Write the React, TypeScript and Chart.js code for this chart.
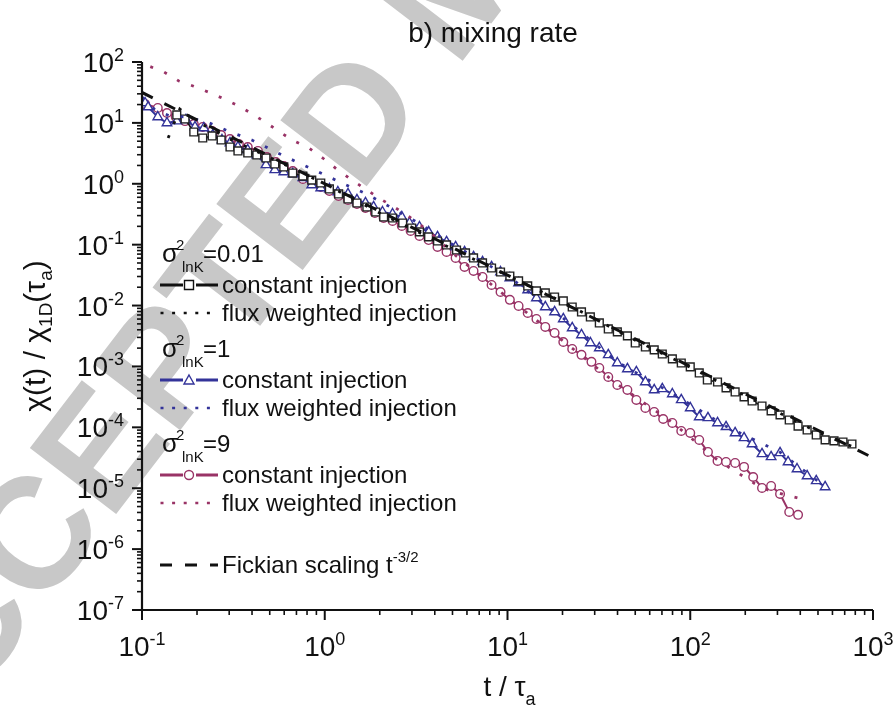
import React, { useEffect, useRef } from "react";
import { Chart, registerables } from "chart.js";

Chart.register(...registerables);

// ---------------- data ----------------
const fickT = [0.1, 1000];
const fickY = [31.6, 3.16e-5];

const sqT = [0.155,0.172,0.192,0.215,0.242,0.271,0.303,0.335,0.379,0.425,0.477,0.533,0.597,0.668,0.759,0.849,0.951,1.06,1.19,1.34,1.50,1.70,1.90,2.10,2.35,2.67,2.99,3.30,3.70,4.14,4.64,5.26,5.89,6.52,7.30,8.18,9.16,10.3,11.5,12.9,14.4,16.1,18.1,20.2,22.6,25.4,28.4,31.8,35.6,39.9,45.3,50.0,56.8,63.5,70.3,79.8,89.3,100,112,124,141,157,176,197,218,247,277,310,348,389,436,489,547,612,685,767];
const sqY = [13.5,11.6,7.09,5.65,6.10,5.24,4.02,3.46,3.21,2.97,2.65,2.11,1.89,1.50,1.34,1.15,1.03,0.822,0.681,0.562,0.484,0.416,0.344,0.285,0.274,0.227,0.188,0.162,0.134,0.115,0.0989,0.0818,0.0731,0.0605,0.0501,0.0414,0.0356,0.0306,0.0254,0.0210,0.0174,0.0161,0.0138,0.0119,0.00948,0.00785,0.00650,0.00518,0.00413,0.00369,0.00317,0.00243,0.00209,0.00187,0.00160,0.00133,0.00114,0.000982,0.000782,0.000600,0.000556,0.000444,0.000381,0.000316,0.000271,0.000224,0.000186,0.000160,0.000132,0.000105,9.06e-5,7.50e-5,6.21e-5,5.98e-5,5.75e-5,5.33e-5];

const triT = [0.104,0.108,0.122,0.137,0.155,0.174,0.195,0.218,0.244,0.274,0.303,0.335,0.379,0.425,0.477,0.533,0.597,0.668,0.759,0.849,0.951,1.06,1.18,1.34,1.50,1.67,1.85,2.07,2.35,2.64,2.91,3.30,3.70,4.14,4.64,5.20,5.82,6.52,7.30,8.18,9.16,10.3,11.5,12.9,14.4,16.1,18.1,20.2,22.6,25.4,28.4,31.8,35.6,39.9,45.3,50.7,56.8,63.5,70.3,79.8,89.3,100,112,125,141,157,176,197,218,247,277,310,343,384,436,489,547];
const triY = [21.2,18.2,12.5,9.96,10.7,11.2,8.57,8.25,6.33,5.24,4.68,4.02,3.59,2.97,2.04,1.69,1.56,1.45,1.25,0.955,0.853,0.822,0.733,0.681,0.542,0.484,0.416,0.344,0.319,0.285,0.227,0.195,0.162,0.134,0.111,0.0917,0.0759,0.0628,0.0520,0.0431,0.0356,0.0284,0.0235,0.0180,0.0133,0.00948,0.00785,0.00603,0.00429,0.00329,0.00243,0.00201,0.00155,0.00114,0.000910,0.000813,0.000556,0.000411,0.000428,0.000353,0.000282,0.000208,0.000148,0.000143,0.000118,0.000102,8.09e-5,6.70e-5,5.33e-5,3.66e-5,3.27e-5,3.80e-5,2.70e-5,2.07e-5,1.59e-5,1.32e-5,1.05e-5];

const cirT = [0.104,0.122,0.137,0.153,0.172,0.192,0.215,0.242,0.271,0.303,0.339,0.379,0.431,0.482,0.540,0.597,0.668,0.759,0.849,0.951,1.06,1.19,1.34,1.50,1.67,1.88,2.10,2.35,2.64,2.95,3.30,3.70,4.14,4.64,5.20,5.82,6.52,7.30,8.18,9.16,10.3,11.5,12.9,14.4,16.1,18.1,20.2,22.6,25.4,28.8,31.8,35.6,39.9,45.3,50.7,56.8,63.5,71.1,79.8,89.3,100,112,125,141,157,176,197,221,247,277,310,348,389];
const cirY = [20.4,17.6,14.5,12.5,10.7,9.59,8.57,7.36,6.33,5.44,4.50,4.02,3.46,2.75,2.28,1.96,1.62,1.20,1.07,0.886,0.762,0.631,0.542,0.466,0.401,0.332,0.274,0.245,0.203,0.168,0.139,0.119,0.0917,0.0759,0.0605,0.0431,0.0370,0.0295,0.0218,0.0167,0.0124,0.00985,0.00755,0.00603,0.00446,0.00355,0.00252,0.00194,0.00155,0.00119,0.000944,0.000673,0.000497,0.000411,0.000282,0.000208,0.000179,0.000137,0.000118,8.73e-5,8.09e-5,6.21e-5,3.94e-5,2.81e-5,2.70e-5,2.60e-5,2.24e-5,1.53e-5,1.01e-5,1.09e-5,8.05e-6,4.08e-6,3.65e-6];

const fluxBlackT = [0.139,0.161,0.2,0.3,0.5,1,2,5,10,20,50,100,200,500,800];
const fluxBlackY = [5.65,16.9,10.5,5.5,2.7,1.0,0.33,0.085,0.031,0.0115,0.0027,0.00097,0.00033,8.3e-5,4.6e-5];

const fluxBlueT = [0.1,0.118,0.142,0.172,0.226,0.295,0.399,0.526,0.703,0.927,1.24,1.65,2.18,2.84,3.26,4.64,5.82,10.3,20.2,39.9,79.8,157,310,500];
const fluxBlueY = [26.6,16.3,13.0,12.5,10.4,7.36,5.24,3.46,2.28,1.56,1.03,0.706,0.449,0.285,0.227,0.115,0.078,0.029,0.0062,0.00118,0.00036,0.000104,3.9e-5,1.3e-5];

const fluxPurpleT = [0.111,0.132,0.159,0.190,0.230,0.274,0.330,0.394,0.470,0.567,0.678,0.818,0.975,1.16,1.41,1.70,2.02,2.44,2.91,3.76,5.0,10.3,20.2,39.9,79.8,141,247,320,389];
const fluxPurpleY = [84,68.5,48.8,40.4,32.2,25.6,19.7,14.5,10.4,7.09,5.05,3.87,2.65,1.75,1.15,0.791,0.562,0.401,0.285,0.162,0.073,0.0126,0.0026,0.00051,0.00012,2.9e-5,1.0e-5,8e-6,6.9e-6];

const xMajor = [0.1, 1, 10, 100, 1000];
const xTickExp = ["-1", "0", "1", "2", "3"];
const yMajor = [1e2, 1e1, 1, 1e-1, 1e-2, 1e-3, 1e-4, 1e-5, 1e-6, 1e-7];
const yTickExp = ["2", "1", "0", "-1", "-2", "-3", "-4", "-5", "-6", "-7"];

const BLACK = "#111111";
const BLUE = "#333399";
const PURPLE = "#993366";
const FONT = "'Liberation Sans', Arial, Helvetica, sans-serif";

type Part = { t: string; size: number; dy?: number };

function pts(xs: number[], ys: number[]) {
  return xs.map((x, i) => ({ x, y: ys[i] }));
}

function partsWidth(ctx: CanvasRenderingContext2D, parts: Part[]) {
  let w = 0;
  for (const p of parts) {
    ctx.font = `${p.size}px ${FONT}`;
    w += ctx.measureText(p.t).width;
  }
  return w;
}

function drawParts(ctx: CanvasRenderingContext2D, parts: Part[], x: number, y: number, align: "left" | "center" | "right") {
  const w = partsWidth(ctx, parts);
  let cx = align === "left" ? x : align === "center" ? x - w / 2 : x - w;
  ctx.textAlign = "left";
  ctx.textBaseline = "alphabetic";
  for (const p of parts) {
    ctx.font = `${p.size}px ${FONT}`;
    ctx.fillText(p.t, cx, y + (p.dy || 0));
    cx += ctx.measureText(p.t).width;
  }
}

const decorPlugin = {
  id: "decor",
  beforeDatasetsDraw(chart: any) {
    const ctx: CanvasRenderingContext2D = chart.ctx;
    ctx.save();
    // watermark
    const em = 158;
    ctx.font = `bold ${em}px ${FONT}`;
    ctx.fillStyle = "#c8c8c8";
    ctx.translate(350, 115);
    ctx.rotate((-52.6 * Math.PI) / 180);
    const pre = ctx.measureText("ACCEPTE").width;
    const dW = ctx.measureText("D").width;
    ctx.textAlign = "left";
    ctx.textBaseline = "alphabetic";
    ctx.fillText("ACCEPTED MANUSCRIPT", -pre - dW / 2, em * 0.358);
    ctx.restore();
  },
  afterDatasetsDraw(chart: any) {
    const ctx: CanvasRenderingContext2D = chart.ctx;
    const xs = chart.scales.x;
    const ys = chart.scales.y;
    const area = chart.chartArea;
    ctx.save();
    ctx.strokeStyle = BLACK;
    ctx.fillStyle = BLACK;
    ctx.lineCap = "butt";
    // axis lines
    ctx.lineWidth = 2.2;
    ctx.beginPath();
    ctx.moveTo(area.left, area.top);
    ctx.lineTo(area.left, area.bottom);
    ctx.lineTo(area.right, area.bottom);
    ctx.stroke();
    // y ticks
    for (let i = 0; i < yMajor.length; i++) {
      const v = yMajor[i];
      const py = ys.getPixelForValue(v);
      ctx.lineWidth = 2;
      ctx.beginPath();
      ctx.moveTo(area.left - 10, py);
      ctx.lineTo(area.left, py);
      ctx.stroke();
      if (i < yMajor.length - 1) {
        for (let m = 2; m <= 9; m++) {
          const pm = ys.getPixelForValue(yMajor[i + 1] * m);
          ctx.lineWidth = 1.6;
          ctx.beginPath();
          ctx.moveTo(area.left - 5, pm);
          ctx.lineTo(area.left, pm);
          ctx.stroke();
        }
      }
      drawParts(ctx, [{ t: "10", size: 28 }, { t: yTickExp[i], size: 18, dy: -11 }], 124, py + 10, "right");
    }
    // x ticks
    for (let i = 0; i < xMajor.length; i++) {
      const v = xMajor[i];
      const px = xs.getPixelForValue(v);
      ctx.lineWidth = 2;
      ctx.beginPath();
      ctx.moveTo(px, area.bottom);
      ctx.lineTo(px, area.bottom + 10);
      ctx.stroke();
      if (i < xMajor.length - 1) {
        for (let m = 2; m <= 9; m++) {
          const pm = xs.getPixelForValue(v * m);
          ctx.lineWidth = 1.6;
          ctx.beginPath();
          ctx.moveTo(pm, area.bottom);
          ctx.lineTo(pm, area.bottom + 5);
          ctx.stroke();
        }
      }
      drawParts(ctx, [{ t: "10", size: 28 }, { t: xTickExp[i], size: 18, dy: -11 }], px, 656, "center");
    }
    // title
    drawParts(ctx, [{ t: "b) mixing rate", size: 28 }], 493, 42, "center");
    // x title
    drawParts(ctx, [{ t: "t / \u03C4", size: 28 }, { t: "a", size: 18, dy: 9 }], (area.left + area.right) / 2 + 2, 696, "center");
    // y title (rotated)
    ctx.save();
    ctx.translate(45, (area.top + area.bottom) / 2);
    ctx.rotate(-Math.PI / 2);
    drawParts(
      ctx,
      [
        { t: "\u03C7(t) / \u03C7", size: 30 },
        { t: "1D", size: 19, dy: 7 },
        { t: "(\u03C4", size: 30 },
        { t: "a", size: 19, dy: 7 },
        { t: ")", size: 30 },
      ],
      0,
      0,
      "center"
    );
    ctx.restore();

    // legend
    const sigmaRow = (b: number, val: string) => {
      ctx.fillStyle = BLACK;
      drawParts(ctx, [{ t: "\u03C3", size: 26 }], 162, b, "left");
      drawParts(ctx, [{ t: "2", size: 15 }], 176, b - 12, "left");
      drawParts(ctx, [{ t: "lnK", size: 15 }], 182, b + 10, "left");
      drawParts(ctx, [{ t: val, size: 24 }], 203, b, "left");
    };
    const lineRow = (y: number, color: string, marker: string) => {
      ctx.strokeStyle = color;
      ctx.lineWidth = 3;
      ctx.setLineDash([]);
      ctx.beginPath();
      ctx.moveTo(160, y);
      ctx.lineTo(183, y);
      ctx.moveTo(196, y);
      ctx.lineTo(218, y);
      ctx.stroke();
      ctx.lineWidth = 1.4;
      ctx.fillStyle = "#fff";
      ctx.beginPath();
      if (marker === "rect") {
        ctx.rect(184.5, y - 4.5, 9, 9);
      } else if (marker === "triangle") {
        ctx.moveTo(189, y - 5);
        ctx.lineTo(194, y + 4);
        ctx.lineTo(184, y + 4);
        ctx.closePath();
      } else {
        ctx.arc(189, y, 4.5, 0, Math.PI * 2);
      }
      ctx.fill();
      ctx.stroke();
      ctx.fillStyle = BLACK;
      drawParts(ctx, [{ t: "constant injection", size: 24 }], 222, y + 8, "left");
    };
    const dotRow = (y: number, color: string) => {
      ctx.strokeStyle = color;
      ctx.lineWidth = 2.6;
      ctx.setLineDash([3, 8.6]);
      ctx.beginPath();
      ctx.moveTo(160.5, y);
      ctx.lineTo(212, y);
      ctx.stroke();
      ctx.setLineDash([]);
      ctx.fillStyle = BLACK;
      drawParts(ctx, [{ t: "flux weighted injection", size: 24 }], 222, y + 8, "left");
    };
    sigmaRow(262, "=0.01");
    lineRow(285, BLACK, "rect");
    dotRow(313, BLACK);
    sigmaRow(357, "=1");
    lineRow(380, BLUE, "triangle");
    dotRow(408, BLUE);
    sigmaRow(452, "=9");
    lineRow(475, PURPLE, "circle");
    dotRow(503, PURPLE);
    // fickian
    ctx.strokeStyle = BLACK;
    ctx.lineWidth = 3;
    ctx.setLineDash([12, 13]);
    ctx.beginPath();
    ctx.moveTo(160, 565);
    ctx.lineTo(218, 565);
    ctx.stroke();
    ctx.setLineDash([]);
    ctx.fillStyle = BLACK;
    drawParts(ctx, [{ t: "Fickian scaling t", size: 24 }, { t: "-3/2", size: 15, dy: -11 }], 222, 573, "left");
    ctx.restore();
  },
};

export default function App() {
  const ref = useRef<HTMLCanvasElement | null>(null);
  useEffect(() => {
    document.body.style.margin = "0";
    const canvas = ref.current!;
    const chart = new Chart(canvas, {
      type: "line",
      data: {
        datasets: [
          {
            label: "Fickian scaling",
            data: pts(fickT, fickY),
            borderColor: BLACK,
            borderWidth: 3,
            borderDash: [12, 13],
            pointRadius: 0,
            fill: false,
          },
          {
            label: "flux 0.01",
            data: pts(fluxBlackT, fluxBlackY),
            borderColor: BLACK,
            borderWidth: 2.8,
            borderDash: [3, 12],
            pointRadius: 0,
            fill: false,
          },
          {
            label: "flux 1",
            data: pts(fluxBlueT, fluxBlueY),
            borderColor: BLUE,
            borderWidth: 2.8,
            borderDash: [3, 12],
            pointRadius: 0,
            fill: false,
          },
          {
            label: "flux 9",
            data: pts(fluxPurpleT, fluxPurpleY),
            borderColor: PURPLE,
            borderWidth: 2.8,
            borderDash: [3, 12],
            pointRadius: 0,
            fill: false,
          },
          {
            label: "constant 0.01",
            data: pts(sqT, sqY),
            borderColor: BLACK,
            borderWidth: 1.5,
            pointStyle: "rect",
            pointRadius: 5.5,
            pointBorderWidth: 1.4,
            pointBorderColor: "#222",
            pointBackgroundColor: "#fff",
            fill: false,
          },
          {
            label: "constant 1",
            data: pts(triT, triY),
            borderColor: BLUE,
            borderWidth: 2,
            pointStyle: "triangle",
            pointRadius: 5.5,
            pointBorderWidth: 1.4,
            pointBorderColor: BLUE,
            pointBackgroundColor: "#fff",
            fill: false,
          },
          {
            label: "constant 9",
            data: pts(cirT, cirY),
            borderColor: PURPLE,
            borderWidth: 2,
            pointStyle: "circle",
            pointRadius: 4.3,
            pointBorderWidth: 1.4,
            pointBorderColor: PURPLE,
            pointBackgroundColor: "#fff",
            fill: false,
          },
        ],
      },
      options: {
        responsive: false,
        animation: false,
        devicePixelRatio: 1,
        events: [],
        layout: { padding: { left: 142, right: 23, top: 62, bottom: 112 } },
        elements: { line: { tension: 0 } },
        plugins: { legend: { display: false }, tooltip: { enabled: false }, title: { display: false } },
        scales: {
          x: { type: "logarithmic", min: 0.1, max: 1000, display: false },
          y: { type: "logarithmic", min: 1e-7, max: 100, display: false },
        },
      },
      plugins: [decorPlugin],
    });
    return () => chart.destroy();
  }, []);
  return (
    <div style={{ position: "fixed", left: 0, top: 0, width: 896, height: 722, background: "#fff" }}>
      <canvas ref={ref} width={896} height={722} />
    </div>
  );
}
